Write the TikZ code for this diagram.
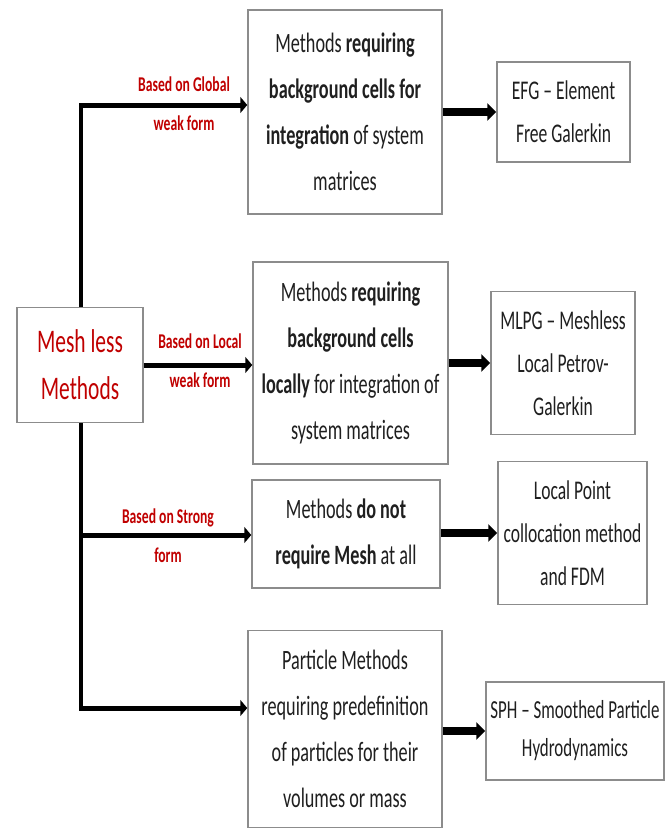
\documentclass[tikz,border=0pt]{standalone}
\usepackage{fontspec}
\setmainfont{Carlito}[FakeStretch=0.65]
\usepackage{xcolor}
\usepackage{tikz}
\usetikzlibrary{positioning}
\usetikzlibrary{arrows.meta,calc}
\definecolor{dkred}{RGB}{192,0,0}
\definecolor{boxgray}{RGB}{140,140,140}
\tikzstyle{process} = [rectangle, inner sep=2pt, text centered, draw=boxgray, line width=1.5pt, fill=white, text=black!88, align=center, font=\fontsize{28}{46}\selectfont]
\tikzstyle{result} = [process, font=\fontsize{27}{43}\selectfont]
\tikzstyle{lbl} = [text=dkred, align=center, font=\bfseries\fontsize{21}{39}\selectfont]
\tikzstyle{trunk} = [line width=3.5pt]
\tikzstyle{branch} = [line width=5pt,-{Triangle[length=7pt,width=16pt]}]
\tikzstyle{arrow} = [line width=8pt,-{Triangle[length=9pt,width=17pt]}]

\begin{document}
\begin{tikzpicture}[x=1pt,y=-1pt]
\useasboundingbox (0,0) rectangle (665,830);
\node (M) [process, minimum width=126pt, minimum height=115pt, text=dkred, font=\fontsize{33}{47}\selectfont] at (80,365) {Mesh less\\Methods};
\node (P1) [process, minimum width=194pt, minimum height=204pt] at (345,112) {Methods \textbf{requiring}\\\textbf{background cells for}\\\textbf{integration} of system\\matrices};
\node (P2) [process, minimum width=195pt, minimum height=202pt] at (350.5,363) {Methods \textbf{requiring}\\\textbf{background cells}\\\textbf{locally} for integration of\\system matrices};
\node (P3) [process, minimum width=188pt, minimum height=108pt] at (346,534) {Methods \textbf{do not}\\\textbf{require Mesh} at all};
\node (P4) [process, minimum width=194pt, minimum height=197pt] at (345,729) {Particle Methods\\requiring predefinition\\of particles for their\\volumes or mass};
\node (R1) [result, minimum width=133pt, minimum height=100pt] at (563.5,112) {EFG -- Element\\Free Galerkin};
\node (R2) [result, minimum width=144pt, minimum height=143pt] at (563,363) {MLPG -- Meshless\\Local Petrov-\\Galerkin};
\node (R3) [result, minimum width=149pt, minimum height=143pt] at (572.5,533) {Local Point\\collocation method\\and FDM};
\node (R4) [result, minimum width=178pt, minimum height=98pt, font=\fontsize{26}{38}\selectfont] at (575,731) {SPH -- Smoothed Particle\\Hydrodynamics};
% branches from the trunk
\coordinate (T1) at (81,105);
\coordinate (T3) at (81,535);
\coordinate (T4) at (81,708);
\draw [trunk] (M.north -| T1) -- (T1);
\draw [trunk] (M.south -| T1) -- (T4);
\draw [branch] ([xshift=-1.75pt]T1) -- (T1 -| P1.west);
\draw [branch] (M.east) -- (M.east -| P2.west);
\draw [branch] ([xshift=-1.75pt]T3) -- (T3 -| P3.west);
\draw [branch] ([xshift=-1.75pt]T4) -- (T4 -| P4.west);
\node (L1) [lbl] at (184,104) {Based on Global\\weak form};
\node (L2) [lbl] at (200,361) {Based on Local\\weak form};
\node (L3) [lbl] at (168,536) {Based on Strong\\form};
\draw [arrow] (P1) -- (R1);
\draw [arrow] (P2) -- (R2);
\draw [arrow] (P3.east |- R3) -- (R3);
\draw [arrow] (P4.east |- R4) -- (R4);
\end{tikzpicture}
\end{document}
